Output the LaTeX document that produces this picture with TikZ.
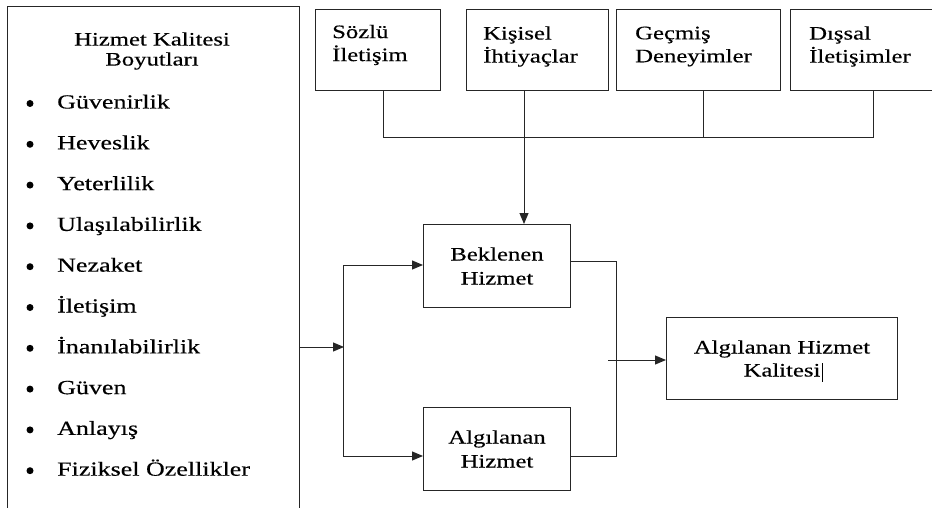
\documentclass[tikz,border=0pt]{standalone}
\usepackage{fontspec}
\setmainfont[FakeStretch=1.3,FakeBold=0.4]{Liberation Serif}
\usetikzlibrary{arrows.meta}
\begin{document}
\begin{tikzpicture}[x=1pt,y=-1pt,
  box/.style={draw=black!85, line width=1pt, inner sep=0pt, anchor=north west, align=center,
              font=\fontsize{19}{24}\selectfont},
  txt/.style={font=\fontsize{19}{23}\selectfont, inner sep=0pt},
  item/.style={font=\fontsize{20}{23}\selectfont, inner sep=0pt, anchor=base west},
  wire/.style={draw=black!85, line width=1pt},
  arr/.style={wire, -{Triangle[length=11pt,width=9pt]}}]
\useasboundingbox (0,0) rectangle (932,508);
% left box
\node[box, minimum width=292pt, minimum height=530pt] (dims) at (7,6) {};
\node[txt, align=center, font=\fontsize{19}{20}\selectfont] (ttl) at (152,51) {Hizmet Kalitesi\\Boyutları};
\foreach \t [count=\i from 0] in {Güvenirlik, Heveslik, Yeterlilik, Ulaşılabilirlik, Nezaket, İletişim, İnanılabilirlik, Güven, Anlayış, Fiziksel Özellikler}{
  \node[item] (it\i) at (57,{108.5+\i*40.8}) {\t};
  \fill (30,{103.5+\i*40.8}) circle (3.5pt);
}
% top boxes
\node[box, minimum width=125pt, minimum height=81pt] (soz) at (315,9) {};
\node[box, minimum width=142pt, minimum height=81pt] (kis) at (466,9) {};
\node[box, minimum width=164pt, minimum height=81pt] (gec) at (616,9) {};
\node[box, minimum width=145pt, minimum height=81pt] (dis) at (790,9) {};
\node[txt, align=left, anchor=west] (tsoz) at (332,45) {Sözlü\\İletişim};
\node[txt, align=left, anchor=west] (tkis) at (483,46.5) {Kişisel\\İhtiyaçlar};
\node[txt, align=left, anchor=west] (tgec) at (635,46.5) {Geçmiş\\Deneyimler};
\node[txt, align=left, anchor=west] (tdis) at (809,46.5) {Dışsal\\İletişimler};
% middle boxes
\node[box, minimum width=147pt, minimum height=83pt] (bek) at (423,224) {Beklenen\\Hizmet};
\node[box, minimum width=147pt, minimum height=83pt] (alg) at (423,407) {Algılanan\\Hizmet};
\node[box, minimum width=231pt, minimum height=82pt, font=\fontsize{19}{23}\selectfont] (res) at (666,317) {Algılanan Hizmet\\Kalitesi};
\draw[line width=0.8pt] (822,363) -- (822,382);
% top bus
\coordinate (d1) at (383,138);
\coordinate (d2) at (524,138);
\coordinate (d3) at (703,138);
\coordinate (d4) at (873,138);
\draw[wire] (d1 |- soz.south) -- (d1) -- (d4) -- (d4 |- dis.south);
\draw[wire] (d3 |- gec.south) -- (d3);
\draw[arr] (d2 |- kis.south) -- (d2 |- bek.north);
% left junction
\coordinate (j) at (344,347);
\coordinate (jt) at (343,265);
\coordinate (jb) at (343,456);
\draw[arr] (j -| dims.east) -- (j);
\draw[wire] (jt) -- (jb);
\draw[arr] (jt) -- (jt -| bek.west);
\draw[arr] (jb) -- (jb -| alg.west);
% right junction
\coordinate (r1) at (616,261);
\coordinate (r2) at (616,456);
\coordinate (r3) at (608,360);
\draw[wire] (r1 -| bek.east) -- (r1) -- (r2) -- (r2 -| alg.east);
\draw[arr] (r3) -- (r3 -| res.west);
\end{tikzpicture}
\end{document}
